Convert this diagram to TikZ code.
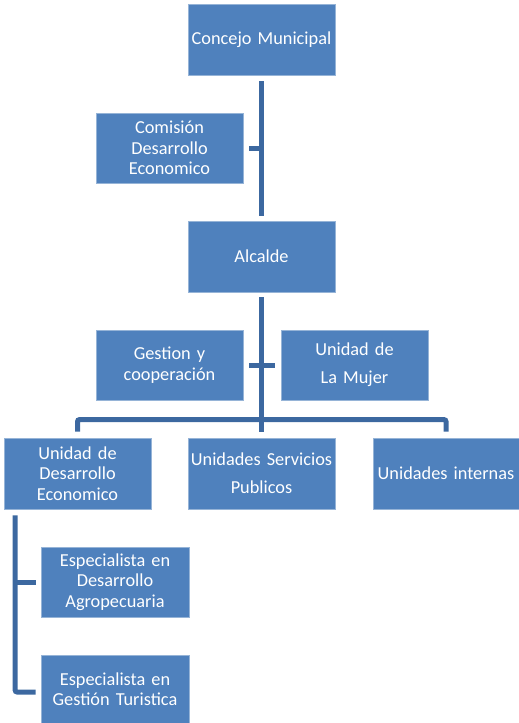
\documentclass[tikz,border=0pt]{standalone}
\usepackage{fontspec}
\setmainfont{Carlito}
\definecolor{boxblue}{RGB}{79,129,189}
\definecolor{boxedge}{RGB}{150,180,215}
\definecolor{linkblue}{RGB}{60,104,160}
\begin{document}
\begin{tikzpicture}[x=1pt,y=-1pt,
  box/.style={draw=boxedge, line width=0.8pt, fill=boxblue, text=white,
    minimum width=147pt, minimum height=71pt, inner sep=0pt, text width=145pt,
    align=center, font=\fontsize{18.3}{20.5}\selectfont},
  widebox/.style={box, font=\fontsize{18.3}{28}\selectfont},
  link/.style={draw=linkblue, line width=5pt}]
\useasboundingbox (0,0) rectangle (519,723);
\node[box] (concejo) at (261.5,39.5) {Concejo Municipal};
\node[box, minimum height=70pt] (comision) at (169.5,148) {Comisión\\Desarrollo\\Economico};
\node[box] (alcalde) at (261.5,256.5) {Alcalde};
\node[box, minimum height=70pt] (gestion) at (169.5,365) {Gestion y\\cooperación};
\node[widebox, minimum height=70pt] (mujer) at (354.5,365) {Unidad de\\La Mujer};
\node[box] (ude) at (77.5,473.5) {Unidad de\\Desarrollo\\Economico};
\node[widebox] (servicios) at (261.5,473.5) {Unidades Servicios\\Publicos};
\node[box, minimum width=146pt] (internas) at (446,473.5) {Unidades internas};
\node[box, minimum width=148pt, minimum height=70pt] (espd) at (115,582) {Especialista en\\Desarrollo\\Agropecuaria};
\node[box, minimum width=148pt, minimum height=68pt] (espg) at (115,689) {Especialista en\\Gestión Turistica};
% connectors
\draw[link] ([yshift=-6pt]concejo.south) -- ([yshift=5pt]alcalde.north);
\draw[link] ([xshift=6pt]comision.east) -- (comision.east -| concejo.south);
\draw[link] ([yshift=-5pt]alcalde.south) -- ([yshift=6pt]servicios.north);
\draw[link] ([xshift=6pt]gestion.east) -- ([xshift=-6pt]mujer.west);
\draw[link, rounded corners=2pt] ([yshift=6pt]ude.north) -- ([yshift=18pt]ude.north) -- ([yshift=18pt]internas.north) -- ([yshift=6pt]internas.north);
\coordinate (brx) at ([xshift=11.5pt,yshift=-6pt]ude.south west);
\draw[link, rounded corners=2pt] (brx) |- ([xshift=-5pt,yshift=-3pt]espg.west);
\draw[link] ([xshift=-5pt]espd.west) -- (espd.west -| brx);
\end{tikzpicture}
\end{document}
